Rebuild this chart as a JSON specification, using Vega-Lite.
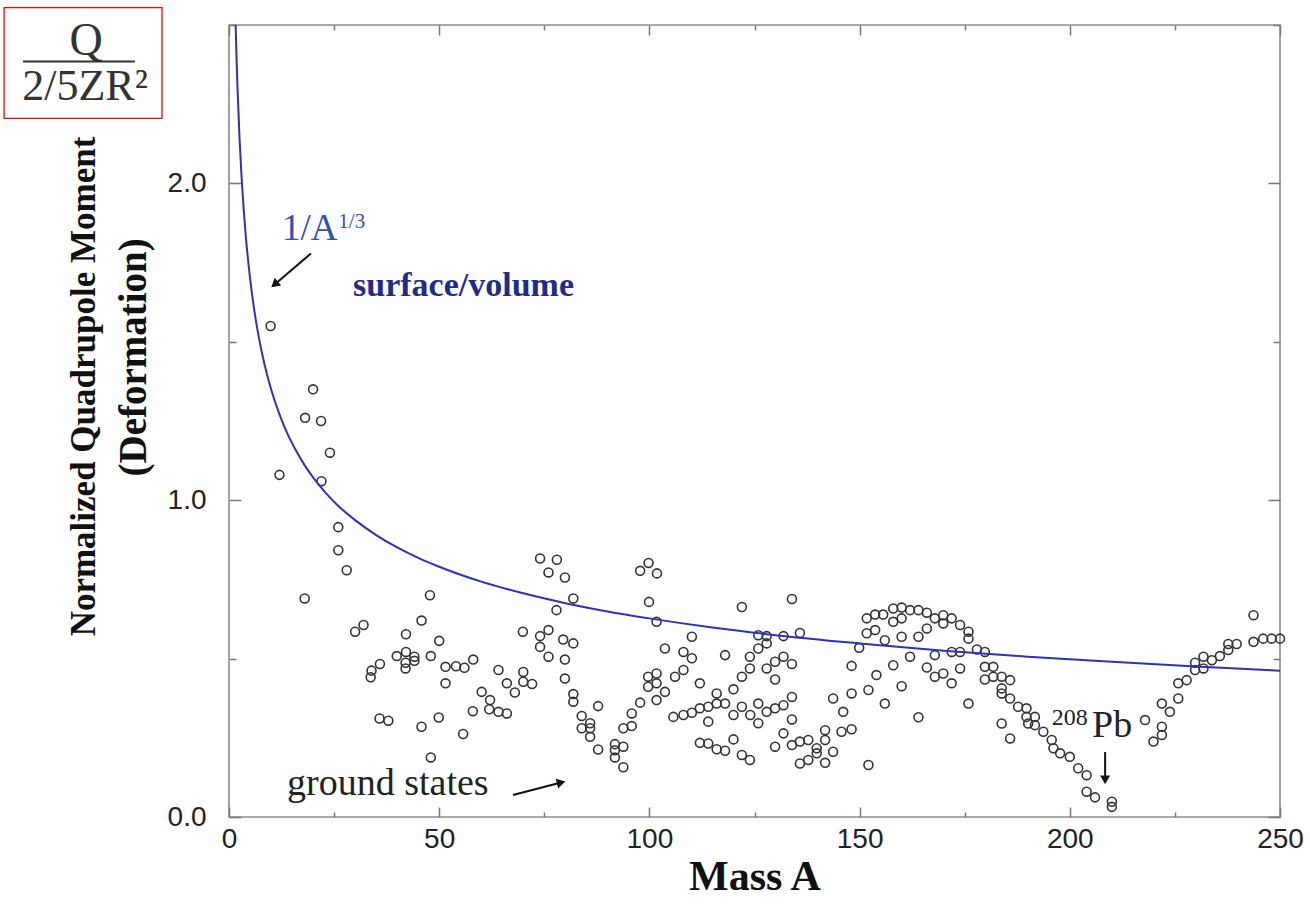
{
  "$schema": "https://vega.github.io/schema/vega-lite/v6.json",
  "width": 1051,
  "height": 792,
  "autosize": "none",
  "padding": {"left": 229, "top": 25, "right": 30, "bottom": 98},
  "background": "white",
  "config": {
    "view": {"stroke": "#8c8c8c", "strokeWidth": 1.6},
    "axis": {"domain": false, "grid": false, "tickColor": "#777777", "tickWidth": 1.5, "labelFont": "Liberation Sans", "labelFontSize": 28, "labelColor": "#222222", "titleFont": "Liberation Serif", "titleFontWeight": "bold", "titleColor": "#111111", "labelFlush": false}
  },
  "datasets": {
    "states": [
      {"A": 9.9, "Q": 1.55}, {"A": 12, "Q": 1.08}, {"A": 18.1, "Q": 1.26}, {"A": 20, "Q": 1.35}, {"A": 21.9, "Q": 1.25}, {"A": 24, "Q": 1.15}, {"A": 22, "Q": 1.06}, {"A": 26, "Q": 0.915}, {"A": 26, "Q": 0.842}, {"A": 28, "Q": 0.779}, {"A": 18, "Q": 0.69},
      {"A": 47.8, "Q": 0.7}, {"A": 45.8, "Q": 0.62}, {"A": 32, "Q": 0.606}, {"A": 30, "Q": 0.585}, {"A": 42.1, "Q": 0.577}, {"A": 50, "Q": 0.556}, {"A": 42.1, "Q": 0.521}, {"A": 39.9, "Q": 0.508}, {"A": 44.1, "Q": 0.506}, {"A": 42, "Q": 0.487}, {"A": 44.1, "Q": 0.493}, {"A": 48, "Q": 0.508}, {"A": 35.9, "Q": 0.483}, {"A": 33.9, "Q": 0.462}, {"A": 33.7, "Q": 0.441}, {"A": 42, "Q": 0.469}, {"A": 51.5, "Q": 0.474}, {"A": 51.5, "Q": 0.422}, {"A": 35.8, "Q": 0.311}, {"A": 37.9, "Q": 0.304}, {"A": 45.8, "Q": 0.285}, {"A": 49.9, "Q": 0.314}, {"A": 48, "Q": 0.188},
      {"A": 54, "Q": 0.476}, {"A": 56, "Q": 0.471}, {"A": 58.1, "Q": 0.497}, {"A": 55.7, "Q": 0.262}, {"A": 58, "Q": 0.334}, {"A": 60.1, "Q": 0.395}, {"A": 62.1, "Q": 0.369}, {"A": 61.9, "Q": 0.34}, {"A": 64.1, "Q": 0.332}, {"A": 66.1, "Q": 0.327}, {"A": 64.1, "Q": 0.464}, {"A": 66.1, "Q": 0.422}, {"A": 68, "Q": 0.393}, {"A": 70, "Q": 0.458}, {"A": 70, "Q": 0.427}, {"A": 72.1, "Q": 0.42}, {"A": 69.9, "Q": 0.585},
      {"A": 74, "Q": 0.816}, {"A": 78, "Q": 0.812}, {"A": 76, "Q": 0.772}, {"A": 79.9, "Q": 0.756}, {"A": 81.9, "Q": 0.69}, {"A": 77.9, "Q": 0.653}, {"A": 74, "Q": 0.571}, {"A": 76, "Q": 0.59}, {"A": 79.5, "Q": 0.56}, {"A": 74, "Q": 0.537}, {"A": 76, "Q": 0.506}, {"A": 79.9, "Q": 0.497}, {"A": 81.9, "Q": 0.548}, {"A": 79.9, "Q": 0.437}, {"A": 81.9, "Q": 0.388}, {"A": 81.9, "Q": 0.364}, {"A": 83.9, "Q": 0.319}, {"A": 85.9, "Q": 0.296}, {"A": 83.9, "Q": 0.28}, {"A": 85.9, "Q": 0.28}, {"A": 85.9, "Q": 0.253}, {"A": 87.8, "Q": 0.35}, {"A": 87.8, "Q": 0.213}, {"A": 91.8, "Q": 0.23}, {"A": 91.8, "Q": 0.211}, {"A": 93.8, "Q": 0.222}, {"A": 91.8, "Q": 0.188}, {"A": 93.8, "Q": 0.157}, {"A": 93.8, "Q": 0.28}, {"A": 95.8, "Q": 0.287}, {"A": 95.8, "Q": 0.327}, {"A": 97.8, "Q": 0.361}, {"A": 97.8, "Q": 0.777}, {"A": 99.8, "Q": 0.802}, {"A": 101.8, "Q": 0.769}, {"A": 99.9, "Q": 0.679}, {"A": 101.7, "Q": 0.616}, {"A": 99.7, "Q": 0.443}, {"A": 101.7, "Q": 0.453}, {"A": 99.7, "Q": 0.411}, {"A": 101.7, "Q": 0.422}, {"A": 103.7, "Q": 0.395}, {"A": 101.7, "Q": 0.369}, {"A": 103.7, "Q": 0.532},
      {"A": 106.1, "Q": 0.443}, {"A": 108.1, "Q": 0.464}, {"A": 108.1, "Q": 0.521}, {"A": 110.1, "Q": 0.501}, {"A": 110.1, "Q": 0.569}, {"A": 105.7, "Q": 0.316}, {"A": 108.1, "Q": 0.322}, {"A": 110.1, "Q": 0.329}, {"A": 112, "Q": 0.343}, {"A": 114, "Q": 0.348}, {"A": 116, "Q": 0.358}, {"A": 112, "Q": 0.422}, {"A": 114, "Q": 0.301}, {"A": 116, "Q": 0.39}, {"A": 118, "Q": 0.358}, {"A": 112, "Q": 0.234}, {"A": 114, "Q": 0.232}, {"A": 116, "Q": 0.214}, {"A": 118, "Q": 0.209}, {"A": 118, "Q": 0.511},
      {"A": 120, "Q": 0.403}, {"A": 120, "Q": 0.322}, {"A": 122, "Q": 0.348}, {"A": 124, "Q": 0.322}, {"A": 125.9, "Q": 0.358}, {"A": 127.9, "Q": 0.332}, {"A": 129.9, "Q": 0.343}, {"A": 131.9, "Q": 0.353}, {"A": 133.9, "Q": 0.379}, {"A": 120, "Q": 0.245}, {"A": 122, "Q": 0.196}, {"A": 123.9, "Q": 0.18}, {"A": 122, "Q": 0.663}, {"A": 122, "Q": 0.443}, {"A": 123.9, "Q": 0.469}, {"A": 123.9, "Q": 0.506}, {"A": 125.9, "Q": 0.532}, {"A": 127.9, "Q": 0.548}, {"A": 125.9, "Q": 0.574}, {"A": 127.9, "Q": 0.571}, {"A": 125.9, "Q": 0.296}, {"A": 127.9, "Q": 0.469}, {"A": 129.9, "Q": 0.49}, {"A": 129.9, "Q": 0.434}, {"A": 131.9, "Q": 0.506}, {"A": 133.9, "Q": 0.483}, {"A": 129.9, "Q": 0.222}, {"A": 131.9, "Q": 0.264}, {"A": 133.9, "Q": 0.227}, {"A": 133.9, "Q": 0.308}, {"A": 131.9, "Q": 0.571}, {"A": 133.9, "Q": 0.688}, {"A": 135.8, "Q": 0.581}, {"A": 135.8, "Q": 0.238}, {"A": 137.8, "Q": 0.243}, {"A": 139.8, "Q": 0.217}, {"A": 141.8, "Q": 0.243}, {"A": 141.8, "Q": 0.274}, {"A": 139.8, "Q": 0.201}, {"A": 135.8, "Q": 0.169}, {"A": 137.8, "Q": 0.18}, {"A": 141.8, "Q": 0.171}, {"A": 143.7, "Q": 0.206}, {"A": 143.7, "Q": 0.374}, {"A": 146.1, "Q": 0.332}, {"A": 145.7, "Q": 0.269}, {"A": 148.1, "Q": 0.277}, {"A": 148.1, "Q": 0.39}, {"A": 148.1, "Q": 0.477}, {"A": 149.9, "Q": 0.534},
      {"A": 152.1, "Q": 0.164}, {"A": 152.1, "Q": 0.401}, {"A": 151.7, "Q": 0.627}, {"A": 153.7, "Q": 0.639}, {"A": 155.6, "Q": 0.639}, {"A": 151.7, "Q": 0.58}, {"A": 153.7, "Q": 0.59}, {"A": 156, "Q": 0.558}, {"A": 154, "Q": 0.448}, {"A": 156, "Q": 0.358}, {"A": 158, "Q": 0.658}, {"A": 160, "Q": 0.661}, {"A": 162, "Q": 0.653}, {"A": 164, "Q": 0.653}, {"A": 166, "Q": 0.645}, {"A": 158, "Q": 0.616}, {"A": 160, "Q": 0.627}, {"A": 158, "Q": 0.479}, {"A": 160, "Q": 0.569}, {"A": 162, "Q": 0.506}, {"A": 160, "Q": 0.413}, {"A": 164, "Q": 0.569}, {"A": 166, "Q": 0.595}, {"A": 164, "Q": 0.315}, {"A": 166, "Q": 0.472}, {"A": 167.9, "Q": 0.627}, {"A": 169.9, "Q": 0.637}, {"A": 171.9, "Q": 0.627}, {"A": 173.9, "Q": 0.606}, {"A": 175.9, "Q": 0.585}, {"A": 175.9, "Q": 0.563}, {"A": 167.9, "Q": 0.511}, {"A": 169.9, "Q": 0.611}, {"A": 167.9, "Q": 0.443}, {"A": 169.9, "Q": 0.453}, {"A": 171.9, "Q": 0.422}, {"A": 171.9, "Q": 0.521}, {"A": 173.9, "Q": 0.521}, {"A": 173.9, "Q": 0.469}, {"A": 175.9, "Q": 0.358}, {"A": 177.9, "Q": 0.529}, {"A": 179.8, "Q": 0.521},
      {"A": 179.8, "Q": 0.474}, {"A": 181.8, "Q": 0.474}, {"A": 179.8, "Q": 0.434}, {"A": 181.8, "Q": 0.443}, {"A": 183.8, "Q": 0.443}, {"A": 185.8, "Q": 0.432}, {"A": 183.8, "Q": 0.406}, {"A": 183.8, "Q": 0.39}, {"A": 185.8, "Q": 0.374}, {"A": 187.7, "Q": 0.348}, {"A": 189.7, "Q": 0.343}, {"A": 189.7, "Q": 0.316}, {"A": 191.7, "Q": 0.316}, {"A": 191.7, "Q": 0.29}, {"A": 193.7, "Q": 0.269}, {"A": 195.7, "Q": 0.243}, {"A": 196.1, "Q": 0.217}, {"A": 197.7, "Q": 0.201}, {"A": 200, "Q": 0.19}, {"A": 202, "Q": 0.154}, {"A": 204, "Q": 0.132}, {"A": 204, "Q": 0.08}, {"A": 206, "Q": 0.062}, {"A": 210, "Q": 0.048}, {"A": 210, "Q": 0.032}, {"A": 183.8, "Q": 0.295}, {"A": 185.8, "Q": 0.248}, {"A": 190.1, "Q": 0.295},
      {"A": 217.9, "Q": 0.306}, {"A": 219.9, "Q": 0.238}, {"A": 221.9, "Q": 0.285}, {"A": 221.9, "Q": 0.259}, {"A": 221.9, "Q": 0.358}, {"A": 223.8, "Q": 0.332}, {"A": 225.8, "Q": 0.374}, {"A": 225.8, "Q": 0.422}, {"A": 227.8, "Q": 0.432}, {"A": 229.8, "Q": 0.464}, {"A": 229.8, "Q": 0.487}, {"A": 231.8, "Q": 0.469}, {"A": 231.8, "Q": 0.506}, {"A": 233.8, "Q": 0.495}, {"A": 235.7, "Q": 0.508}, {"A": 237.7, "Q": 0.527}, {"A": 237.7, "Q": 0.546}, {"A": 239.7, "Q": 0.546}, {"A": 243.7, "Q": 0.637}, {"A": 243.7, "Q": 0.553}, {"A": 246, "Q": 0.563}, {"A": 248, "Q": 0.563}, {"A": 250, "Q": 0.563}
    ],
    "curve": [
      {"A": 1.3, "Q": 2.666}, {"A": 1.5, "Q": 2.542}, {"A": 1.75, "Q": 2.415}, {"A": 2, "Q": 2.31}, {"A": 2.5, "Q": 2.144}, {"A": 3, "Q": 2.018}, {"A": 3.5, "Q": 1.917}, {"A": 4, "Q": 1.833}, {"A": 5, "Q": 1.702}, {"A": 6, "Q": 1.601}, {"A": 7, "Q": 1.521}, {"A": 8, "Q": 1.455}, {"A": 9, "Q": 1.399}, {"A": 10, "Q": 1.351}, {"A": 12, "Q": 1.271}, {"A": 14, "Q": 1.207}, {"A": 16, "Q": 1.155}, {"A": 18, "Q": 1.11}, {"A": 20, "Q": 1.072}, {"A": 23, "Q": 1.023}, {"A": 26, "Q": 0.982}, {"A": 30, "Q": 0.937}, {"A": 35, "Q": 0.89}, {"A": 40, "Q": 0.851}, {"A": 45, "Q": 0.818}, {"A": 50, "Q": 0.79}, {"A": 60, "Q": 0.743}, {"A": 70, "Q": 0.706}, {"A": 80, "Q": 0.675}, {"A": 90, "Q": 0.649}, {"A": 100, "Q": 0.627}, {"A": 115, "Q": 0.598}, {"A": 130, "Q": 0.574}, {"A": 150, "Q": 0.548}, {"A": 170, "Q": 0.525}, {"A": 190, "Q": 0.506}, {"A": 210, "Q": 0.49}, {"A": 230, "Q": 0.475}, {"A": 250, "Q": 0.462}
    ]
  },
  "layer": [
    {
      "data": {"name": "states"},
      "mark": {"type": "point", "shape": "circle", "filled": false, "size": 80, "stroke": "#333333", "strokeWidth": 1.6, "opacity": 1, "clip": false},
      "encoding": {
        "x": {"field": "A", "type": "quantitative", "scale": {"domain": [0, 250], "nice": false, "zero": false},
          "axis": {"orient": "bottom", "values": [0, 25, 50, 75, 100, 125, 150, 175, 200, 225, 250], "labelExpr": "datum.value % 50 === 0 ? datum.label : ''", "tickSize": {"condition": {"test": "datum.value % 50 === 0", "value": -10}, "value": -5}, "labelPadding": 18, "title": "Mass A", "titleFontSize": 42, "titleBaseline": "alphabetic", "titleY": 72}},
        "y": {"field": "Q", "type": "quantitative", "scale": {"domain": [0, 2.5], "nice": false, "zero": false},
          "axis": {"orient": "left", "values": [0, 0.5, 1, 1.5, 2, 2.5], "format": ".1f", "labelExpr": "datum.value % 1 === 0 ? datum.label : ''", "tickSize": {"condition": {"test": "datum.value % 1 === 0", "value": -12}, "value": -7}, "labelPadding": 35, "title": "Normalized Quadrupole Moment", "titleFontSize": 35, "titleAngle": 270, "titleAlign": "center", "titleBaseline": "alphabetic", "titleX": -135, "titleY": 361}}
      }
    },
    {
      "data": {"name": "curve"},
      "mark": {"type": "line", "color": "#3030b8", "strokeWidth": 2, "clip": true, "interpolate": "monotone"},
      "encoding": {
        "x": {"field": "A", "type": "quantitative", "scale": {"domain": [0, 250], "nice": false, "zero": false},
          "axis": {"orient": "top", "values": [0, 25, 50, 75, 100, 125, 150, 175, 200, 225, 250], "labels": false, "title": null, "tickSize": {"condition": {"test": "datum.value % 50 === 0", "value": -10}, "value": -5}}},
        "y": {"field": "Q", "type": "quantitative", "scale": {"domain": [0, 2.5], "nice": false, "zero": false},
          "axis": {"orient": "right", "values": [0, 0.5, 1, 1.5, 2, 2.5], "labels": false, "title": null, "tickSize": {"condition": {"test": "datum.value % 1 === 0", "value": -12}, "value": -7}}}
      }
    },
    {
      "data": {"values": [{}]},
      "mark": {"type": "text", "text": "(Deformation)", "font": "Liberation Serif", "fontWeight": "bold", "fontSize": 39, "color": "#111111", "angle": 270, "align": "center", "baseline": "alphabetic", "clip": false},
      "encoding": {
        "x": {"datum": -19.7, "type": "quantitative", "scale": {"domain": [0, 250], "nice": false, "zero": false}, "axis": null},
        "y": {"datum": 1.451, "type": "quantitative", "scale": {"domain": [0, 2.5], "nice": false, "zero": false}, "axis": null}
      }
    },
    {
      "data": {"values": [{}]},
      "mark": {"type": "rect", "fill": null, "stroke": "#ff0000", "strokeWidth": 1.3, "clip": false},
      "encoding": {
        "x": {"datum": -53.5, "type": "quantitative", "scale": {"domain": [0, 250], "nice": false, "zero": false}, "axis": null},
        "x2": {"datum": -15.94},
        "y": {"datum": 2.555, "type": "quantitative", "scale": {"domain": [0, 2.5], "nice": false, "zero": false}, "axis": null},
        "y2": {"datum": 2.205}
      }
    },
    {
      "data": {"values": [{}]},
      "mark": {"type": "rule", "stroke": "#333333", "strokeWidth": 2, "clip": false},
      "encoding": {
        "x": {"datum": -49.0, "type": "quantitative", "scale": {"domain": [0, 250], "nice": false, "zero": false}, "axis": null},
        "x2": {"datum": -22.36},
        "y": {"datum": 2.385, "type": "quantitative", "scale": {"domain": [0, 2.5], "nice": false, "zero": false}, "axis": null}
      }
    },
    {
      "data": {"values": [{}]},
      "mark": {"type": "text", "text": "Q", "font": "Liberation Serif", "fontSize": 46, "color": "#333333", "align": "center", "baseline": "alphabetic", "clip": false},
      "encoding": {
        "x": {"datum": -34.0, "type": "quantitative", "scale": {"domain": [0, 250], "nice": false, "zero": false}, "axis": null},
        "y": {"datum": 2.404, "type": "quantitative", "scale": {"domain": [0, 2.5], "nice": false, "zero": false}, "axis": null}
      }
    },
    {
      "data": {"values": [{}]},
      "mark": {"type": "text", "text": "2/5ZR²", "font": "Liberation Serif", "fontSize": 44, "color": "#333333", "align": "center", "baseline": "alphabetic", "clip": false},
      "encoding": {
        "x": {"datum": -34.25, "type": "quantitative", "scale": {"domain": [0, 250], "nice": false, "zero": false}, "axis": null},
        "y": {"datum": 2.262, "type": "quantitative", "scale": {"domain": [0, 2.5], "nice": false, "zero": false}, "axis": null}
      }
    },
    {
      "data": {"values": [{}]},
      "mark": {"type": "text", "text": "1/A", "font": "Liberation Serif", "fontSize": 37, "color": "#3550a8", "align": "left", "baseline": "alphabetic", "clip": false},
      "encoding": {
        "x": {"datum": 12.6, "type": "quantitative", "scale": {"domain": [0, 250], "nice": false, "zero": false}, "axis": null},
        "y": {"datum": 1.82, "type": "quantitative", "scale": {"domain": [0, 2.5], "nice": false, "zero": false}, "axis": null}
      }
    },
    {
      "data": {"values": [{}]},
      "mark": {"type": "text", "text": "1/3", "font": "Liberation Serif", "fontSize": 21, "color": "#3550a8", "align": "left", "baseline": "alphabetic", "clip": false},
      "encoding": {
        "x": {"datum": 26.0, "type": "quantitative", "scale": {"domain": [0, 250], "nice": false, "zero": false}, "axis": null},
        "y": {"datum": 1.86, "type": "quantitative", "scale": {"domain": [0, 2.5], "nice": false, "zero": false}, "axis": null}
      }
    },
    {
      "data": {"values": [{}]},
      "mark": {"type": "text", "text": "surface/volume", "font": "Liberation Serif", "fontWeight": "bold", "fontSize": 34, "color": "#1f2d87", "align": "left", "baseline": "alphabetic", "clip": false},
      "encoding": {
        "x": {"datum": 29.5, "type": "quantitative", "scale": {"domain": [0, 250], "nice": false, "zero": false}, "axis": null},
        "y": {"datum": 1.644, "type": "quantitative", "scale": {"domain": [0, 2.5], "nice": false, "zero": false}, "axis": null}
      }
    },
    {
      "data": {"values": [{}]},
      "mark": {"type": "text", "text": "ground states", "font": "Liberation Serif", "fontSize": 38, "color": "#222222", "align": "left", "baseline": "alphabetic", "clip": false},
      "encoding": {
        "x": {"datum": 13.8, "type": "quantitative", "scale": {"domain": [0, 250], "nice": false, "zero": false}, "axis": null},
        "y": {"datum": 0.069, "type": "quantitative", "scale": {"domain": [0, 2.5], "nice": false, "zero": false}, "axis": null}
      }
    },
    {
      "data": {"values": [{}]},
      "mark": {"type": "text", "text": "208", "font": "Liberation Serif", "fontSize": 24, "color": "#222222", "align": "left", "baseline": "alphabetic", "clip": false},
      "encoding": {
        "x": {"datum": 195.7, "type": "quantitative", "scale": {"domain": [0, 250], "nice": false, "zero": false}, "axis": null},
        "y": {"datum": 0.29, "type": "quantitative", "scale": {"domain": [0, 2.5], "nice": false, "zero": false}, "axis": null}
      }
    },
    {
      "data": {"values": [{}]},
      "mark": {"type": "text", "text": "Pb", "font": "Liberation Serif", "fontSize": 38, "color": "#222222", "align": "left", "baseline": "alphabetic", "clip": false},
      "encoding": {
        "x": {"datum": 205.3, "type": "quantitative", "scale": {"domain": [0, 250], "nice": false, "zero": false}, "axis": null},
        "y": {"datum": 0.253, "type": "quantitative", "scale": {"domain": [0, 2.5], "nice": false, "zero": false}, "axis": null}
      }
    },
    {
      "data": {"values": [{}]},
      "mark": {"type": "rule", "stroke": "#111111", "strokeWidth": 2, "clip": false},
      "encoding": {
        "x": {"datum": 19.5, "type": "quantitative", "scale": {"domain": [0, 250], "nice": false, "zero": false}, "axis": null},
        "x2": {"datum": 10.85},
        "y": {"datum": 1.779, "type": "quantitative", "scale": {"domain": [0, 2.5], "nice": false, "zero": false}, "axis": null},
        "y2": {"datum": 1.681}
      }
    },
    {
      "data": {"values": [{}]},
      "mark": {"type": "point", "shape": "triangle-up", "filled": true, "size": 100, "color": "#111111", "opacity": 1, "angle": 229.5, "clip": false},
      "encoding": {
        "x": {"datum": 10.85, "type": "quantitative", "scale": {"domain": [0, 250], "nice": false, "zero": false}, "axis": null},
        "y": {"datum": 1.681, "type": "quantitative", "scale": {"domain": [0, 2.5], "nice": false, "zero": false}, "axis": null}
      }
    },
    {
      "data": {"values": [{}]},
      "mark": {"type": "rule", "stroke": "#111111", "strokeWidth": 2, "clip": false},
      "encoding": {
        "x": {"datum": 67.55, "type": "quantitative", "scale": {"domain": [0, 250], "nice": false, "zero": false}, "axis": null},
        "x2": {"datum": 79.0},
        "y": {"datum": 0.0694, "type": "quantitative", "scale": {"domain": [0, 2.5], "nice": false, "zero": false}, "axis": null},
        "y2": {"datum": 0.1088}
      }
    },
    {
      "data": {"values": [{}]},
      "mark": {"type": "point", "shape": "triangle-up", "filled": true, "size": 100, "color": "#111111", "opacity": 1, "angle": 75.5, "clip": false},
      "encoding": {
        "x": {"datum": 79.0, "type": "quantitative", "scale": {"domain": [0, 250], "nice": false, "zero": false}, "axis": null},
        "y": {"datum": 0.1088, "type": "quantitative", "scale": {"domain": [0, 2.5], "nice": false, "zero": false}, "axis": null}
      }
    },
    {
      "data": {"values": [{}]},
      "mark": {"type": "rule", "stroke": "#111111", "strokeWidth": 2, "clip": false},
      "encoding": {
        "x": {"datum": 208.4, "type": "quantitative", "scale": {"domain": [0, 250], "nice": false, "zero": false}, "axis": null},
        "y": {"datum": 0.205, "type": "quantitative", "scale": {"domain": [0, 2.5], "nice": false, "zero": false}, "axis": null},
        "y2": {"datum": 0.117}
      }
    },
    {
      "data": {"values": [{}]},
      "mark": {"type": "point", "shape": "triangle-down", "filled": true, "size": 100, "color": "#111111", "opacity": 1, "clip": false},
      "encoding": {
        "x": {"datum": 208.4, "type": "quantitative", "scale": {"domain": [0, 250], "nice": false, "zero": false}, "axis": null},
        "y": {"datum": 0.117, "type": "quantitative", "scale": {"domain": [0, 2.5], "nice": false, "zero": false}, "axis": null}
      }
    }
  ],
  "resolve": {"axis": {"x": "independent", "y": "independent"}}
}
